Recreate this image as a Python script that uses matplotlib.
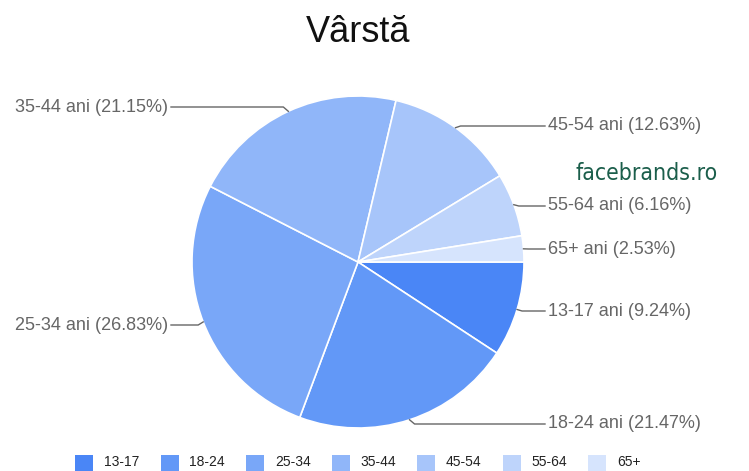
import numpy as np
import matplotlib
matplotlib.use('Agg')
import matplotlib.pyplot as plt
from matplotlib.patches import Rectangle
from matplotlib import font_manager

plt.rcParams['font.family'] = ['Liberation Sans', 'DejaVu Sans']

categories = ['13-17', '18-24', '25-34', '35-44', '45-54', '55-64', '65+']
shares = [9.24, 21.47, 26.83, 21.15, 12.63, 6.16, 2.53]
colors = ['#4a86f6', '#6298f7', '#79a7f8', '#90b6f9', '#a7c5fa', '#bed4fb', '#d6e4fd']

# label y positions (pixels from top)
label_y = [311, 424, 325, 107, 126, 206, 249]

W, H = 749, 471
fig = plt.figure(figsize=(W / 100, H / 100), dpi=100)
ax = fig.add_axes([0, 0, 1, 1])

cx, cy, r = 358, H - 262, 166
wedges, _ = ax.pie(shares, colors=colors, startangle=0, counterclock=False,
                   center=(cx, cy), radius=r, frame=True,
                   wedgeprops=dict(edgecolor='white', linewidth=1.2))
ax.set_xlim(0, W)
ax.set_ylim(0, H)
ax.axis('off')

for w, cat, val, ly in zip(wedges, categories, shares, label_y):
    mid = np.deg2rad((w.theta1 + w.theta2) / 2)
    ex, ey = cx + r * np.cos(mid), cy + r * np.sin(mid)
    yy = H - ly
    txt = f'{cat} ani ({val:.2f}%)'
    if np.cos(mid) >= 0:
        ax.plot([ex, ex + 5, 545], [ey, yy, yy], color='#666666', lw=1)
        ax.text(548, yy, txt, ha='left', va='center', fontsize=13, color='#666666')
    else:
        ax.plot([ex, ex - 5, 171], [ey, yy, yy], color='#666666', lw=1)
        ax.text(168, yy, txt, ha='right', va='center', fontsize=13, color='#666666')

ax.text(358, H - 33, 'Vârstă', ha='center', va='center', fontsize=26, color='#111111')

names = {f.name for f in font_manager.fontManager.ttflist}
if 'Liberation Sans Narrow' in names:
    wm_font, wm_size = 'Liberation Sans Narrow', 21
else:
    wm_font, wm_size = 'DejaVu Sans', 16.5
ax.text(647, H - 174, 'facebrands.ro', ha='center', va='center', fontsize=wm_size,
        color='#1b5e4b', family=wm_font, fontstretch='condensed')

# legend
for i, (cat, c) in enumerate(zip(categories, colors)):
    x0 = 75 + i * 85.5
    ax.add_patch(Rectangle((x0, H - 471), 18, 16, facecolor=c, edgecolor='none'))
    ax.text(x0 + 29, H - 462, cat, ha='left', va='center', fontsize=10, color='#222222')

fig.savefig('out.png', dpi=100)
